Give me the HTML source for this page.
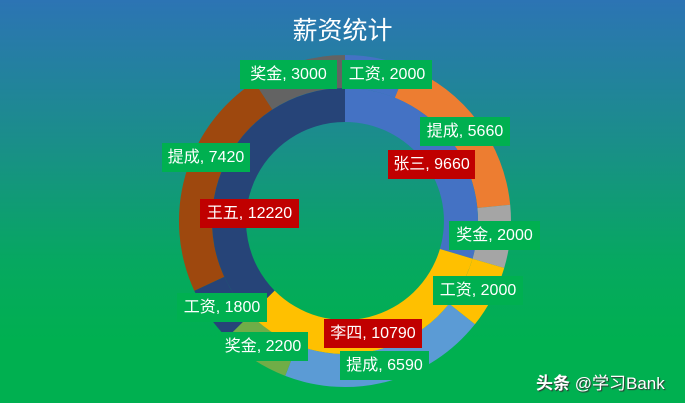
<!DOCTYPE html>
<html><head><meta charset="utf-8"><style>
html,body{margin:0;padding:0}
body{width:685px;height:403px;overflow:hidden;position:relative;background:linear-gradient(to bottom,#2c74b4 0%,#1a8e8a 35%,#06a860 65%,#00b050 85%,#00b050 100%);font-family:"Liberation Sans","Noto Sans CJK SC",sans-serif}
svg{position:absolute;left:0;top:0}
.l{position:absolute;height:29px;line-height:29px;color:#fff;font-size:16px;padding:0;box-sizing:border-box;text-align:center;white-space:nowrap}
.g{background:#00b050}.r{background:#c00000}
.t{position:absolute;left:0;width:685px;top:11px;text-align:center;color:#fff;font-size:25px}
.w{position:absolute;left:536px;top:369px;color:#fff;font-size:17px;text-shadow:1px 1px 1px #333;font-weight:normal}
</style></head><body>
<svg width="685" height="403">
<path d="M345,55 A166,166 0 0 1 407.3,67.1 L394.9,97.7 A133,133 0 0 0 345,88 Z" fill="#4472c4"/>
<path d="M407.3,67.1 A166,166 0 0 1 510.2,204.8 L477.4,208 A133,133 0 0 0 394.9,97.7 Z" fill="#ed7d31"/>
<path d="M510.2,204.8 A166,166 0 0 1 504.2,268 L472.5,258.7 A133,133 0 0 0 477.4,208 Z" fill="#a5a5a5"/>
<path d="M504.2,268 A166,166 0 0 1 474.9,324.3 L449.1,303.8 A133,133 0 0 0 472.5,258.7 Z" fill="#ffc000"/>
<path d="M474.9,324.3 A166,166 0 0 1 285.2,375.9 L297.1,345.1 A133,133 0 0 0 449.1,303.8 Z" fill="#5b9bd5"/>
<path d="M285.2,375.9 A166,166 0 0 1 226.9,337.7 L250.4,314.5 A133,133 0 0 0 297.1,345.1 Z" fill="#70ad47"/>
<path d="M226.9,337.7 A166,166 0 0 1 194.3,290.7 L224.3,276.8 A133,133 0 0 0 250.4,314.5 Z" fill="#264478"/>
<path d="M194.3,290.7 A166,166 0 0 1 254.4,81.9 L272.4,109.5 A133,133 0 0 0 224.3,276.8 Z" fill="#9e480e"/>
<path d="M254.4,81.9 A166,166 0 0 1 345,55 L345,88 A133,133 0 0 0 272.4,109.5 Z" fill="#636363"/>
<path d="M345,88 A133,133 0 0 1 472.5,258.7 L439.9,249 A99,99 0 0 0 345,122 Z" fill="#4472c4"/>
<path d="M472.5,258.7 A133,133 0 0 1 250.4,314.5 L274.6,290.6 A99,99 0 0 0 439.9,249 Z" fill="#ffc000"/>
<path d="M250.4,314.5 A133,133 0 0 1 345,88 L345,122 A99,99 0 0 0 274.6,290.6 Z" fill="#264478"/>
</svg>
<div class="t">薪资统计</div>
<div class="l g" style="left:240px;top:60px;width:97px">奖金, 3000</div>
<div class="l g" style="left:342px;top:60px;width:90px">工资, 2000</div>
<div class="l g" style="left:420px;top:117px;width:90px">提成, 5660</div>
<div class="l r" style="left:388px;top:150px;width:87px">张三, 9660</div>
<div class="l g" style="left:162px;top:143px;width:88px">提成, 7420</div>
<div class="l r" style="left:200px;top:199px;width:99px">王五, 12220</div>
<div class="l g" style="left:449px;top:221px;width:91px">奖金, 2000</div>
<div class="l g" style="left:433px;top:276px;width:90px">工资, 2000</div>
<div class="l g" style="left:177px;top:293px;width:90px">工资, 1800</div>
<div class="l r" style="left:324px;top:319px;width:98px">李四, 10790</div>
<div class="l g" style="left:218px;top:332px;width:90px">奖金, 2200</div>
<div class="l g" style="left:340px;top:351px;width:89px">提成, 6590</div>
<div class="w"><b>头条</b> @学习Bank</div>
</body></html>
